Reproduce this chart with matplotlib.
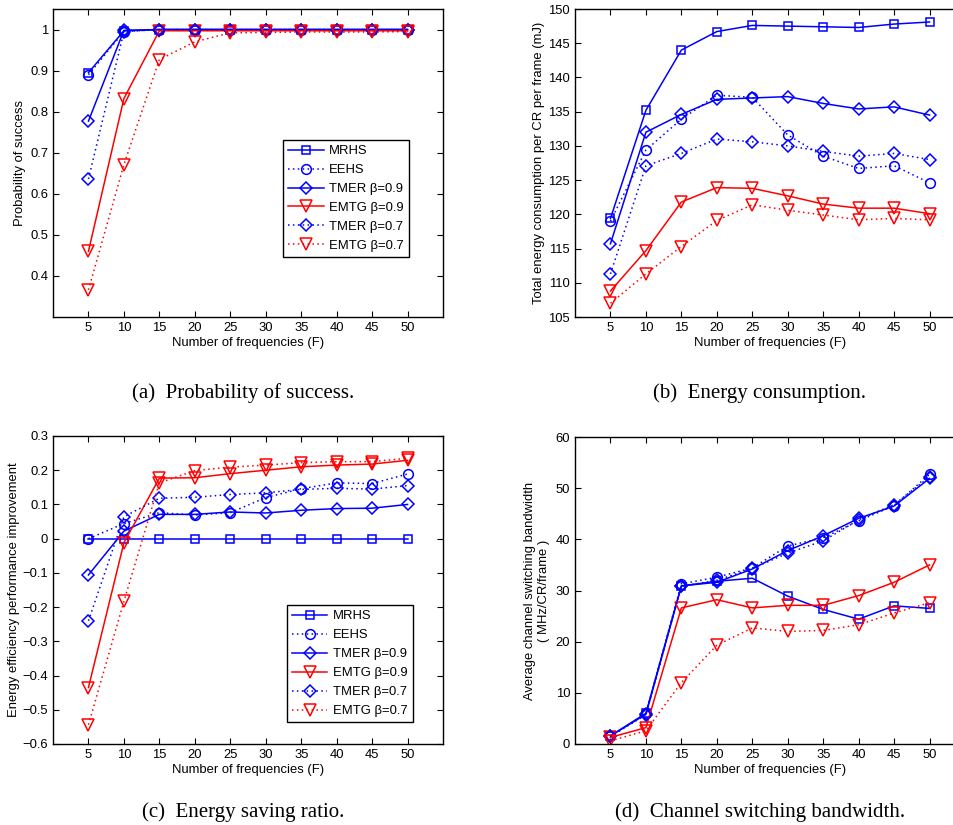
import matplotlib
matplotlib.use("Agg")
import matplotlib.pyplot as plt

plt.rcParams['font.family'] = ['Liberation Sans', 'DejaVu Sans']

freqs = [5, 10, 15, 20, 25, 30, 35, 40, 45, 50]
names = ["MRHS", "EEHS", "TMER \u03b2=0.9", "EMTG \u03b2=0.9", "TMER \u03b2=0.7", "EMTG \u03b2=0.7"]

# (a) probability of success
succ_mrhs = [0.895, 0.997, 1.0, 1.0, 1.0, 1.0, 1.0, 1.0, 1.0, 1.0]
succ_eehs = [0.890, 0.995, 1.0, 1.0, 1.0, 1.0, 1.0, 1.0, 1.0, 1.0]
succ_tmer9 = [0.777, 0.998, 1.0, 1.0, 1.0, 1.0, 1.0, 1.0, 1.0, 1.0]
succ_emtg9 = [0.460, 0.832, 0.997, 0.997, 0.997, 0.997, 0.997, 0.997, 0.997, 0.997]
succ_tmer7 = [0.636, 0.995, 1.0, 1.0, 1.0, 1.0, 1.0, 1.0, 1.0, 1.0]
succ_emtg7 = [0.366, 0.671, 0.927, 0.970, 0.992, 0.993, 0.994, 0.994, 0.994, 0.995]

# (b) energy consumption (mJ)
en_mrhs = [119.4, 135.2, 144.0, 146.7, 147.6, 147.5, 147.4, 147.3, 147.8, 148.1]
en_eehs = [119.0, 129.4, 133.9, 137.4, 137.1, 131.6, 128.5, 126.7, 127.1, 124.6]
en_tmer9 = [115.7, 132.0, 134.6, 136.8, 137.0, 137.2, 136.2, 135.4, 135.7, 134.5]
en_emtg9 = [108.8, 114.7, 121.8, 123.9, 123.8, 122.7, 121.5, 120.9, 120.9, 120.1]
en_tmer7 = [111.3, 127.1, 128.9, 131.0, 130.6, 130.0, 129.2, 128.5, 128.9, 128.0]
en_emtg7 = [107.0, 111.3, 115.3, 119.1, 121.4, 120.6, 119.9, 119.2, 119.4, 119.2]

# (c) energy saving ratio
sav_mrhs = [0, 0, 0, 0, 0, 0, 0, 0, 0, 0]
sav_eehs = [0.0, 0.044, 0.076, 0.069, 0.076, 0.120, 0.146, 0.163, 0.161, 0.189]
sav_tmer9 = [-0.106, 0.022, 0.071, 0.071, 0.078, 0.075, 0.083, 0.088, 0.089, 0.100]
sav_emtg9 = [-0.435, -0.012, 0.177, 0.178, 0.190, 0.200, 0.210, 0.215, 0.218, 0.229]
sav_tmer7 = [-0.240, 0.064, 0.118, 0.121, 0.129, 0.134, 0.144, 0.147, 0.145, 0.155]
sav_emtg7 = [-0.544, -0.183, 0.163, 0.199, 0.209, 0.215, 0.222, 0.225, 0.225, 0.235]

# (d) channel switching bandwidth
bw_mrhs = [1.6, 6.0, 30.9, 31.8, 32.4, 28.9, 26.3, 24.4, 27.0, 26.5]
bw_eehs = [1.5, 6.0, 31.3, 32.6, 34.4, 38.7, 40.3, 43.6, 46.6, 52.7]
bw_tmer9 = [1.6, 5.8, 30.9, 31.6, 34.2, 37.8, 40.7, 44.1, 46.5, 51.9]
bw_emtg9 = [1.3, 3.2, 26.6, 28.2, 26.6, 27.1, 27.1, 29.0, 31.6, 35.0]
bw_tmer7 = [1.5, 5.7, 30.8, 32.0, 34.3, 37.3, 39.7, 43.8, 46.8, 52.2]
bw_emtg7 = [0.6, 2.6, 12.0, 19.3, 22.7, 22.0, 22.2, 23.3, 25.6, 27.6]

captions = ["(a)  Probability of success.", "(b)  Energy consumption.",
            "(c)  Energy saving ratio.", "(d)  Channel switching bandwidth."]

W, H = 954, 825
fig = plt.figure(figsize=(W / 100, H / 100), dpi=100)

dot = (0, (1, 2.2))
styles = [
    dict(color="blue", linestyle="-", marker="s", markersize=6),
    dict(color="blue", linestyle=dot, marker="o", markersize=7),
    dict(color="blue", linestyle="-", marker="D", markersize=6.5),
    dict(color="red", linestyle="-", marker="v", markersize=8),
    dict(color="blue", linestyle=dot, marker="D", markersize=6.5),
    dict(color="red", linestyle=dot, marker="v", markersize=8),
]


def make_ax(left, top, bottom, width=390):
    return fig.add_axes([left / W, (H - bottom) / H, width / W, (bottom - top) / H])


def draw(ax, series, ylim, yticks, ylabel, ylab_x):
    for s, name, st in zip(series, names, styles):
        ax.plot(freqs, s, label=name, linewidth=1.1, markerfacecolor="none",
                markeredgewidth=1.1, **st)
    ax.set_xlim(0, 55)
    ax.set_xticks(freqs)
    ax.set_ylim(*ylim)
    ax.set_yticks(yticks)
    ax.tick_params(direction="in", top=True, right=True, labelsize=9.4, length=4, width=0.8)
    for sp in ax.spines.values():
        sp.set_linewidth(1.0)
    ax.set_xlabel("Number of frequencies (F)", fontsize=9.4, labelpad=2)
    ax.set_ylabel(ylabel, fontsize=9.4)
    ax.yaxis.set_label_coords(ylab_x, 0.5)


ax_a = make_ax(53, 9, 317)
draw(ax_a, [succ_mrhs, succ_eehs, succ_tmer9, succ_emtg9, succ_tmer7, succ_emtg7],
     (0.3, 1.05), [0.4, 0.5, 0.6, 0.7, 0.8, 0.9, 1.0], "Probability of success", -0.068)
ax_a.set_yticklabels(["0.4", "0.5", "0.6", "0.7", "0.8", "0.9", "1"])

ax_b = make_ax(575, 9, 317)
draw(ax_b, [en_mrhs, en_eehs, en_tmer9, en_emtg9, en_tmer7, en_emtg7],
     (105, 150), list(range(105, 151, 5)),
     "Total energy consumption per CR per frame (mJ)", -0.077)

ax_c = make_ax(53, 436, 744)
draw(ax_c, [sav_mrhs, sav_eehs, sav_tmer9, sav_emtg9, sav_tmer7, sav_emtg7],
     (-0.6, 0.3), [-0.6, -0.5, -0.4, -0.3, -0.2, -0.1, 0, 0.1, 0.2, 0.3],
     "Energy efficiency performance improvement", -0.085)
ax_c.set_yticklabels(["\u22120.6", "\u22120.5", "\u22120.4", "\u22120.3", "\u22120.2",
                      "\u22120.1", "0", "0.1", "0.2", "0.3"])

ax_d = make_ax(575, 437, 744)
draw(ax_d, [bw_mrhs, bw_eehs, bw_tmer9, bw_emtg9, bw_tmer7, bw_emtg7],
     (0, 60), [0, 10, 20, 30, 40, 50, 60],
     "Average channel switching bandwidth\n( MHz/CR/frame )", -0.065)

for ax, anchor in [(ax_a, (0.59, 0.575)), (ax_c, (0.60, 0.451))]:
    leg = ax.legend(loc="upper left", bbox_to_anchor=anchor, borderaxespad=0,
                    fontsize=9.4, fancybox=False, edgecolor="black", framealpha=1,
                    handlelength=2.7, handletextpad=0.4, labelspacing=0.52,
                    borderpad=0.4)
    leg.get_frame().set_linewidth(1.0)

cap_pos = [(243, 393), (760, 393), (243, 812), (760, 812)]
for cap, (cx, cy) in zip(captions, cap_pos):
    fig.text(cx / W, 1 - cy / H, cap, ha="center", va="center",
             family="Liberation Serif", fontsize=15)

fig.savefig("out.png", dpi=100)
